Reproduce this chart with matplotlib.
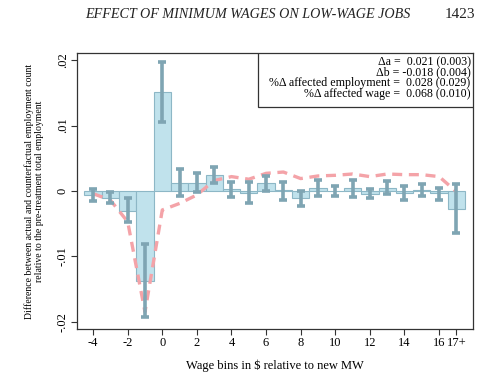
import matplotlib
matplotlib.use("Agg")
import matplotlib.pyplot as plt
from matplotlib.patches import Rectangle
import numpy as np

bins = [-4, -3, -2, -1, 0, 1, 2, 3, 4, 5, 6, 7, 8, 9, 10, 11, 12, 13, 14, 15, 16, 17]
actual = [-0.0006, -0.0010, -0.0030, -0.0137, 0.0152, 0.0012, 0.0012, 0.0025, 0.0003,
          -0.0003, 0.0012, 0.0001, -0.0011, 0.0004, 0.0000, 0.0004, -0.0004, 0.0005,
          -0.0003, 0.0002, -0.0003, -0.0028]
ci_hi = [0.0003, -0.0002, -0.0011, -0.0081, 0.0198, 0.0033, 0.0028, 0.0037, 0.0014,
         0.0013, 0.0023, 0.0014, 0.0000, 0.0017, 0.0007, 0.0017, 0.0003, 0.0016,
         0.0007, 0.0011, 0.0004, 0.0011]
ci_lo = [-0.0015, -0.0018, -0.0048, -0.0193, 0.0106, -0.0008, -0.0002, 0.0012, -0.0009,
         -0.0019, 0.0000, -0.0013, -0.0023, -0.0008, -0.0008, -0.0009, -0.0011, -0.0004,
         -0.0013, -0.0007, -0.0014, -0.0064]
dashed = [-0.0004, -0.0014, -0.0047, -0.0185, -0.0029, -0.0019, -0.0006, 0.0016, 0.0022,
          0.0018, 0.0027, 0.0029, 0.0019, 0.0023, 0.0024, 0.0026, 0.0022, 0.0026,
          0.0025, 0.0025, 0.0022, -0.0001]
xticks = [-4, -2, 0, 2, 4, 6, 8, 10, 12, 14, 16, 17]
xticklabels = ["-4", "-2", "0", "2", "4", "6", "8", "10", "12", "14", "16", "17+"]
yticks = [-0.02, -0.01, 0, 0.01, 0.02]
yticklabels = ["-.02", "-.01", "0", ".01", ".02"]
legend_lines = ["\u0394a =  0.021 (0.003)",
                "\u0394b = -0.018 (0.004)",
                "%\u0394 affected employment =  0.028 (0.029)",
                "%\u0394 affected wage =  0.068 (0.010)"]

plt.rcParams['font.family'] = ['Liberation Serif', 'DejaVu Serif']

W, H = 496, 378
fig = plt.figure(figsize=(W / 100, H / 100), dpi=100)
ax_l, ax_r, ax_t, ax_b = 77, 473, 53, 329
ax = fig.add_axes([ax_l / W, 1 - ax_b / H, (ax_r - ax_l) / W, (ax_b - ax_t) / H])

x = np.array(bins, dtype=float)
a = np.array(actual)
ax.bar(x, a, width=1.0, color="#c0e2ec", edgecolor="#8db7c6", linewidth=0.8, zorder=2)
ax.plot(x, dashed, color="#f4a3a8", lw=2.4, ls=(0, (3, 2)), zorder=3)
ax.errorbar(x, (np.array(ci_hi) + np.array(ci_lo)) / 2,
            yerr=(np.array(ci_hi) - np.array(ci_lo)) / 2,
            fmt="none", ecolor="#7fa5b3", elinewidth=2.6, capsize=3, capthick=2.6, zorder=4)

ax.set_xlim(-4.93, 17.96)
ax.set_ylim(-0.0211, 0.0211)
ax.set_xticks(xticks)
ax.set_xticklabels(xticklabels, fontsize=9)
ax.set_yticks(yticks)
ax.set_yticklabels(yticklabels, fontsize=9, rotation=90, va="center")
for s in ax.spines.values():
    s.set_color("#333333")
    s.set_linewidth(0.9)
ax.tick_params(direction="out", length=4, width=0.8, color="#333333", pad=2)

ax.set_xlabel("Wage bins in $ relative to new MW", fontsize=9, labelpad=7)
ax.set_ylabel("Difference between actual and counterfactual employment count\n"
              "relative to the pre-treatment total employment", fontsize=7, labelpad=9)

# legend box
axh = ax_b - ax_t
axw = ax_r - ax_l
box_left = (258.3 - ax_l) / axw
box_bottom = (ax_b - 106.7) / axh
ax.add_patch(Rectangle((box_left, box_bottom), 1 - box_left, 1 - box_bottom, transform=ax.transAxes,
                       facecolor="white", edgecolor="#333333", linewidth=0.9, zorder=5))
ax.text((470.7 - ax_l) / axw, (ax_b - 56) / axh, "\n".join(legend_lines), transform=ax.transAxes,
        ha="right", va="top", multialignment="right", fontsize=8.6, linespacing=0.86, zorder=6)

fig.text(248 / W, 1 - 15 / H, "EFFECT OF MINIMUM WAGES ON LOW-WAGE JOBS", ha="center", va="center",
         fontsize=10.2, style="italic", color="#222222")
fig.text(475 / W, 1 - 15 / H, "1423", ha="right", va="center", fontsize=11, color="#222222")

fig.savefig("out.png", dpi=100)
